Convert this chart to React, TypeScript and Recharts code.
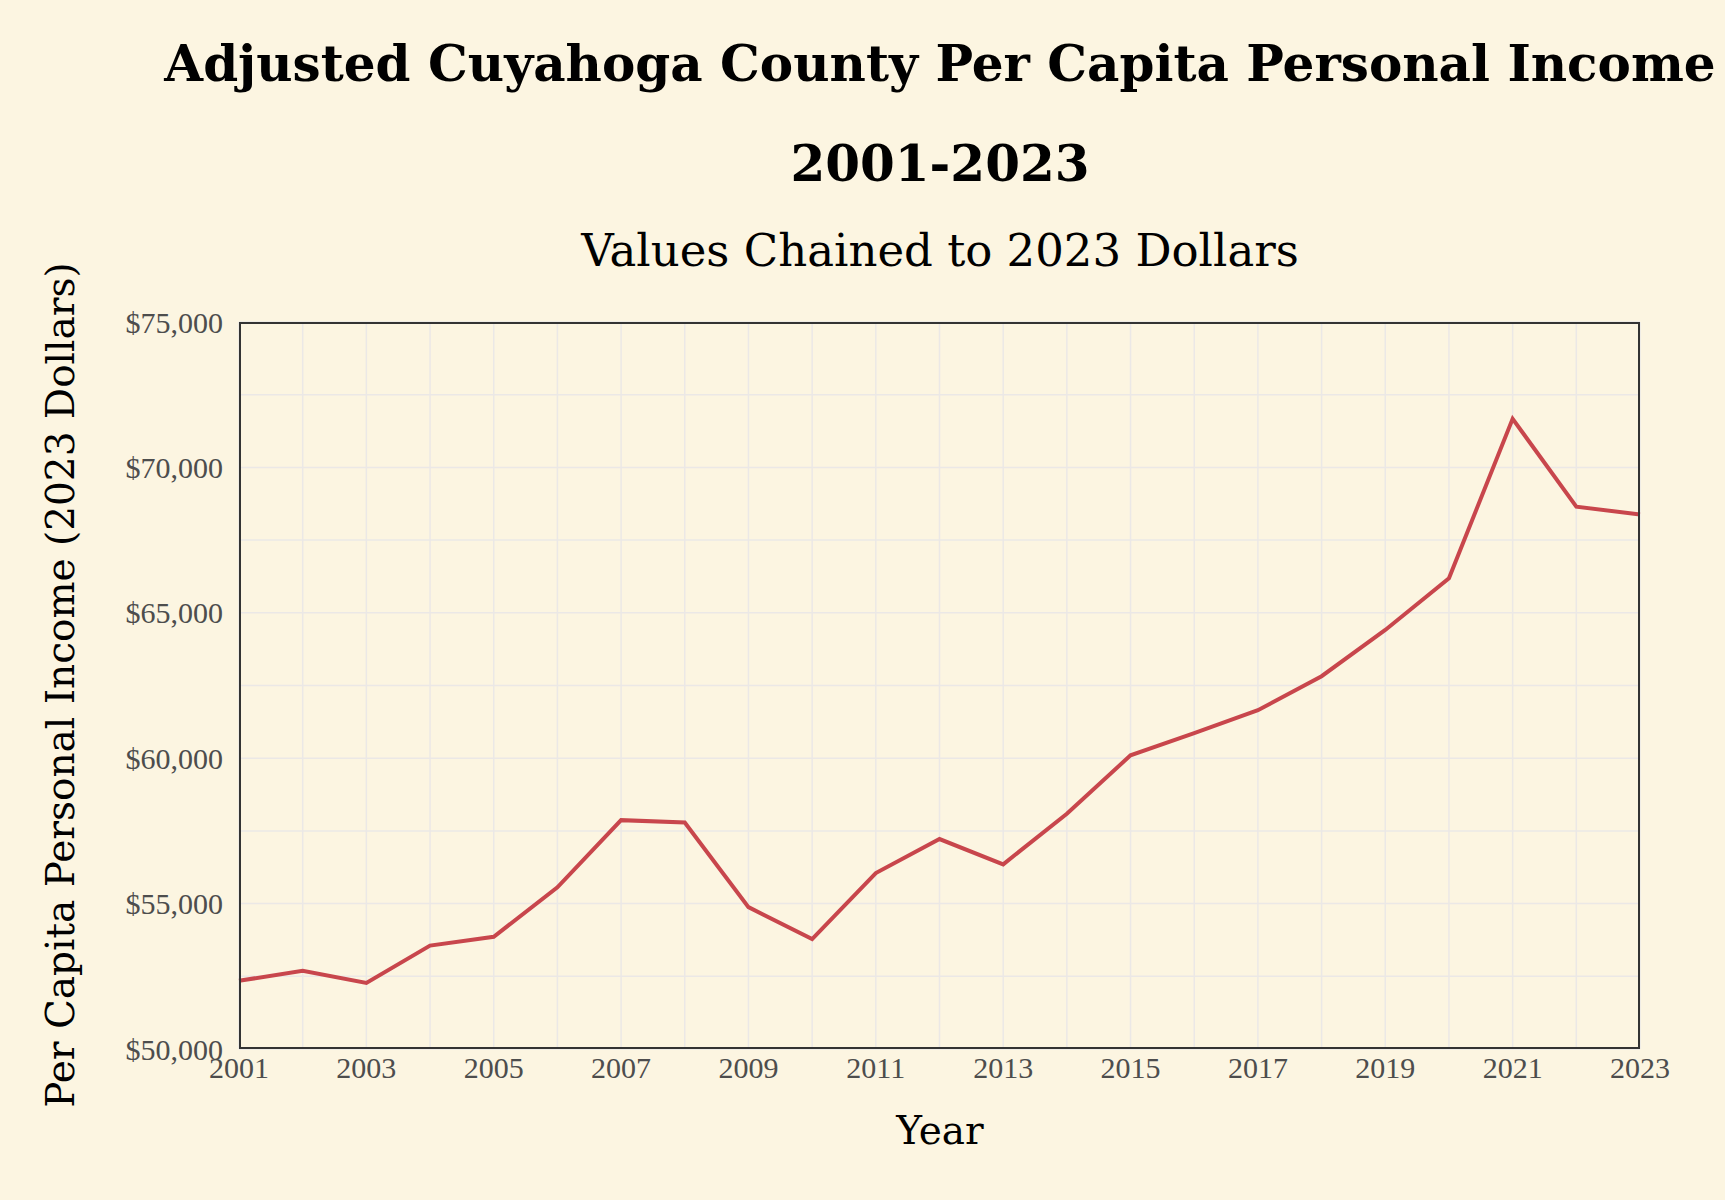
import { LineChart, Line, XAxis, YAxis, CartesianGrid } from 'recharts'

const years = [2001, 2002, 2003, 2004, 2005, 2006, 2007, 2008, 2009, 2010, 2011, 2012,
  2013, 2014, 2015, 2016, 2017, 2018, 2019, 2020, 2021, 2022, 2023]
const income = [52345, 52690, 52270, 53555, 53860, 55560, 57870, 57790, 54880, 53780, 56050, 57220,
  56350, 58090, 60100, 60860, 61650, 62820, 64410, 66190, 71670, 68650, 68380]
const yTicks = [50000, 52500, 55000, 57500, 60000, 62500, 65000, 67500, 70000, 72500, 75000]

const data = years.map((year, i) => ({ year, income: income[i] }))

const font = '"Liberation Serif", serif'
const wide = '"DejaVu Serif", serif'
const tickStyle = { fill: '#4d4d4d', fontSize: 30, fontFamily: font }

export default function App() {
  return (
    <div style={{ position: 'absolute', left: 0, top: 0, width: 1725, height: 1200, background: '#fcf5e1', fontFamily: wide }}>
      <div style={{ position: 'absolute', left: 0, width: 1880, top: 14, textAlign: 'center', fontSize: 50, fontWeight: 'bold', lineHeight: '100px' }}>
        Adjusted Cuyahoga County Per Capita Personal Income<br />2001-2023
      </div>
      <div style={{ position: 'absolute', left: 0, width: 1880, top: 224, textAlign: 'center', fontSize: 45 }}>
        Values Chained to 2023 Dollars
      </div>
      <div style={{ position: 'absolute', left: 60, top: 685, transform: 'translate(-50%, -50%) rotate(-90deg)', whiteSpace: 'nowrap', fontSize: 39 }}>
        Per Capita Personal Income (2023 Dollars)
      </div>
      <div style={{ position: 'absolute', left: 0, width: 1880, top: 1108, textAlign: 'center', fontSize: 39 }}>
        Year
      </div>
      <div style={{ position: 'absolute', left: 0, top: 0 }}>
        <LineChart width={1725} height={1200} data={data} margin={{ top: 322, left: 89, right: 85, bottom: 91 }}>
          <CartesianGrid stroke="#ebe8e6" strokeWidth={1.5} />
          <XAxis
            dataKey="year"
            type="number"
            domain={[2001, 2023]}
            ticks={years}
            interval={0}
            tickFormatter={(v: number) => (v % 2 === 1 ? String(v) : '')}
            tick={tickStyle}
            fontSize={30}
            tickLine={false}
            axisLine={false}
            height={60}
            tickMargin={2}
          />
          <YAxis
            domain={[50000, 75000]}
            ticks={yTicks}
            interval={0}
            tickFormatter={(v: number) => (v % 5000 === 0 ? '$' + v.toLocaleString('en-US') : '')}
            tick={tickStyle}
            fontSize={30}
            tickLine={false}
            axisLine={false}
            width={150}
            tickMargin={10}
          />
          <Line dataKey="income" stroke="#c8464c" strokeWidth={4} dot={false} isAnimationActive={false} />
        </LineChart>
        <div style={{ position: 'absolute', left: 239, top: 322, width: 1401, height: 727, border: '2px solid #333', boxSizing: 'border-box' }} />
      </div>
    </div>
  )
}
